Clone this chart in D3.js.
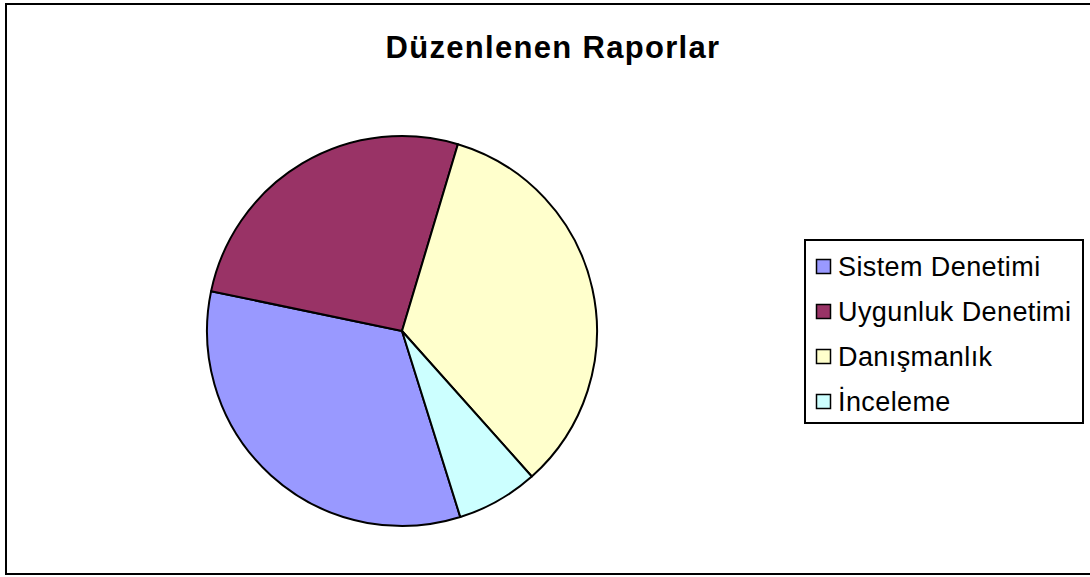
<!DOCTYPE html>
<html>
<head>
<meta charset="utf-8">
<script src="https://cdn.jsdelivr.net/npm/d3@7"></script>
<style>
  body { margin: 0; background: #fff; }
  svg text { font-family: "Liberation Sans", Arial, sans-serif; }
</style>
</head>
<body>
<div id="chart"></div>
<script>
const title = "Düzenlenen Raporlar";
const categories = ["Sistem Denetimi", "Uygunluk Denetimi", "Danışmanlık", "İnceleme"];
const values = [49, 39, 50, 10];
const colors = ["#9999FF", "#993366", "#FFFFCC", "#CCFFFF"];

const width = 1090, height = 577;
const cx = 402, cy = 331, radius = 195;
const firstSliceAngle = 162.6; // degrees, clockwise from 12 o'clock

const data = categories.map((c, i) => ({ name: c, value: values[i], color: colors[i] }));

const svg = d3.select("#chart")
  .append("svg")
  .attr("width", width)
  .attr("height", height);

// chart frame
svg.append("rect")
  .attr("x", 6).attr("y", 4)
  .attr("width", 1090).attr("height", 570)
  .attr("fill", "#fff")
  .attr("stroke", "#000")
  .attr("stroke-width", 2);

svg.append("text")
  .attr("x", 553).attr("y", 58)
  .attr("text-anchor", "middle")
  .attr("font-size", 31)
  .attr("font-weight", "bold")
  .attr("letter-spacing", 1.3)
  .text(title);

const start = firstSliceAngle * Math.PI / 180;
const pie = d3.pie()
  .value(d => d.value)
  .sort(null)
  .startAngle(start)
  .endAngle(start + 2 * Math.PI);

const arc = d3.arc().innerRadius(0).outerRadius(radius);

svg.append("g")
  .attr("transform", `translate(${cx},${cy})`)
  .selectAll("path")
  .data(pie(data))
  .enter().append("path")
  .attr("d", arc)
  .attr("fill", d => d.data.color)
  .attr("stroke", "#000")
  .attr("stroke-width", 2)
  .attr("stroke-linejoin", "round");

// legend
const legend = svg.append("g");
legend.append("rect")
  .attr("x", 805).attr("y", 240)
  .attr("width", 278).attr("height", 183)
  .attr("fill", "#fff")
  .attr("stroke", "#000")
  .attr("stroke-width", 2);

const rowY = d3.scalePoint()
  .domain(categories)
  .range([276, 411]);

const item = legend.selectAll("g.item")
  .data(data)
  .enter().append("g")
  .attr("class", "item")
  .attr("transform", d => `translate(0,${rowY(d.name)})`);

item.append("rect")
  .attr("x", 816.5).attr("y", -16.5)
  .attr("width", 14).attr("height", 14)
  .attr("fill", d => d.color)
  .attr("stroke", "#000")
  .attr("stroke-width", 1.5);

item.append("text")
  .attr("x", 838).attr("y", 0)
  .attr("font-size", 27)
  .attr("letter-spacing", 0.4)
  .text(d => d.name);
</script>
</body>
</html>
